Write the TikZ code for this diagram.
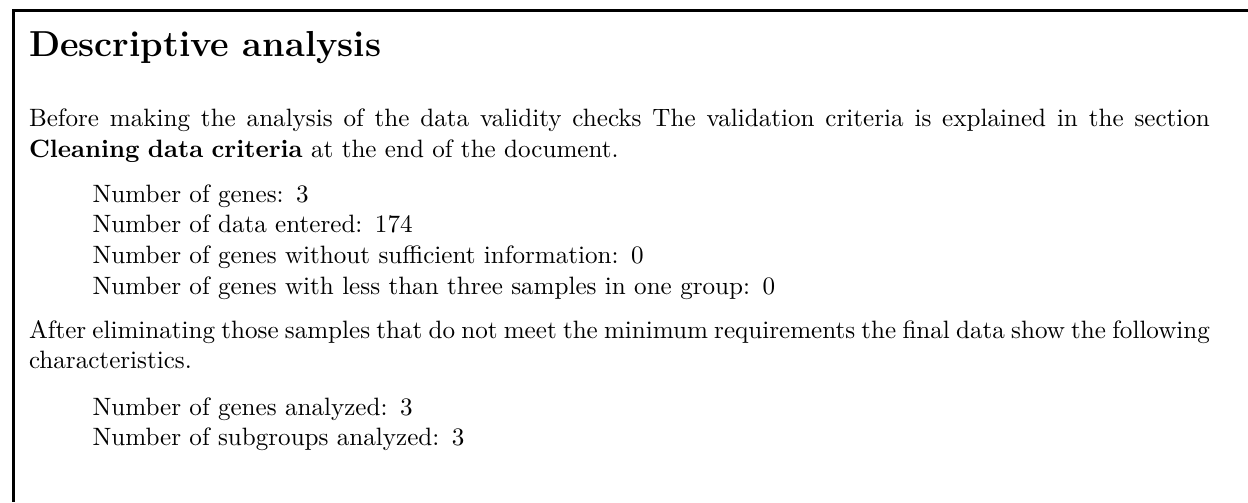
\documentclass[tikz,border=0pt]{standalone}
\usepackage{amsmath}
\usepackage{tikz}
\usetikzlibrary{positioning}

\newcommand{\fullline}[1]{{\spaceskip=3.33pt plus 3pt minus 2pt\makebox[470.6pt][s]{#1}}}
\tikzset{
  bodytext/.style={anchor=base west, inner sep=0pt, text width=480pt, align=left, font=\fontsize{10}{12.23}\selectfont},
  itemtext/.style={anchor=base west, inner sep=0pt, text width=420pt, align=left, font=\fontsize{10}{12.23}\selectfont},
}

\begin{document}
\begin{tikzpicture}[x=0.3985pt, y=-0.3985pt]
\useasboundingbox (0,0) rectangle (1248,502);
% Frame (top and left edges)
\draw[line width=1.2pt] (1248,10.7) -- (13.5,10.7) -- (13.5,502);

% Heading
\node[anchor=base west, inner sep=0pt, font=\Large\bfseries] (title) at (28.5,56) {Descriptive analysis};

% First paragraph and counts
\node[bodytext] (intro) at (28.5,126.7) {\fullline{Before making the analysis of the data validity checks The validation criteria is explained in the section}\\
\textbf{Cleaning data criteria} at the end of the document.};
\node[itemtext] (counts) at (92,202.3) {Number of genes: 3\\
Number of data entered: 174\\
Number of genes without sufficient information: 0\\
Number of genes with less than three samples in one group: 0};

% Second paragraph and final data
\node[bodytext] (result) at (28.5,338.3) {\fullline{After eliminating those samples that do not meet the minimum requirements the final data show the following}\\
characteristics.};
\node[itemtext] (final) at (92,415) {Number of genes analyzed: 3\\
Number of subgroups analyzed: 3};

\end{tikzpicture}
\end{document}
